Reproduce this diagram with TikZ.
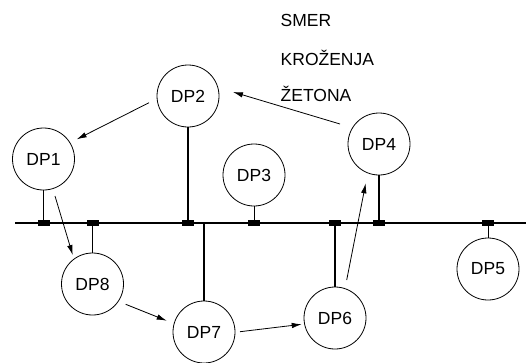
\documentclass[tikz,border=0pt]{standalone}
\usepackage{fontspec}
\setmainfont{Liberation Sans}
\usetikzlibrary{arrows.meta,calc}
\begin{document}
\begin{tikzpicture}[x=1pt,y=-1pt,
  stn/.style={draw,circle,minimum size=62pt,inner sep=0pt,line width=0.8pt,font=\fontsize{17.5}{20}\selectfont},
  tap/.style={fill=black,minimum width=12pt,minimum height=6pt,inner sep=0pt},
  busline/.style={line width=1.4pt},
  stub/.style={line width=1.4pt},
  thinstub/.style={line width=0.9pt},
  arr/.style={line width=0.8pt,-{Latex[length=10pt,width=5.5pt]}},
  lbl/.style={anchor=west,inner sep=0pt,font=\fontsize{17.5}{20}\selectfont}]
\useasboundingbox (0,0) rectangle (526,362);
% stations
\node[stn] (DP1) at (43.5,159) {DP1};
\node[stn] (DP2) at (188,96) {DP2};
\node[stn] (DP3) at (254,175) {DP3};
\node[stn] (DP4) at (379,144) {DP4};
\node[stn] (DP5) at (488,269) {DP5};
\node[stn] (DP6) at (335,318) {DP6};
\node[stn] (DP7) at (204,332) {DP7};
\node[stn] (DP8) at (92.5,284) {DP8};
% bus
\coordinate (busL) at (15,223);
\coordinate (busR) at (526,223);
\draw[busline] (busL) -- (busR);
\coordinate (t7) at (204,223);
% stubs
\draw[stub] (DP1.south) -- (DP1.south |- busL);
\draw[stub] (DP8.north) -- (DP8.north |- busL);
\draw[stub] (DP2.south) -- (DP2.south |- busL);
\draw[thinstub] (DP3.south) -- (DP3.south |- busL);
\draw[stub] (DP6.north) -- (DP6.north |- busL);
\draw[stub] (DP4.south) -- (DP4.south |- busL);
\draw[thinstub] (DP5.north) -- (DP5.north |- busL);
\draw[stub] (t7) -- (DP7.north);
% taps
\node[tap] (s1) at (DP1.south |- busL) {};
\node[tap] (s8) at (DP8.north |- busL) {};
\node[tap] (s2) at (DP2.south |- busL) {};
\node[tap] (s3) at (DP3.south |- busL) {};
\node[tap] (s6) at (DP6.north |- busL) {};
\node[tap] (s4) at (DP4.south |- busL) {};
\node[tap] (s5) at (DP5.north |- busL) {};
% token arrows
\draw[arr] ($(DP2)+(-39,6.7)$) -- ($(DP1)+(33.2,-19.7)$);
\draw[arr] ($(DP1)+(11.5,37)$) -- ($(DP8)+(-19.8,-29)$);
\draw[arr] ($(DP8)+(33.2,20.3)$) -- ($(DP7)+(-37.3,-11.3)$);
\draw[arr] ($(DP7)+(36,-0.3)$) -- ($(DP6)+(-33.3,6.3)$);
\draw[arr] ($(DP6)+(11.7,-38)$) -- ($(DP4)+(-13.3,39.3)$);
\draw[arr] ($(DP4)+(-39,-20)$) -- ($(DP2)+(45,-4)$);
% label
\node[lbl] (l1) at (280.5,20.5) {SMER};
\node[lbl] (l2) at (280.5,58) {KROŽENJA};
\node[lbl] (l3) at (280.5,94) {ŽETONA};
\end{tikzpicture}
\end{document}
